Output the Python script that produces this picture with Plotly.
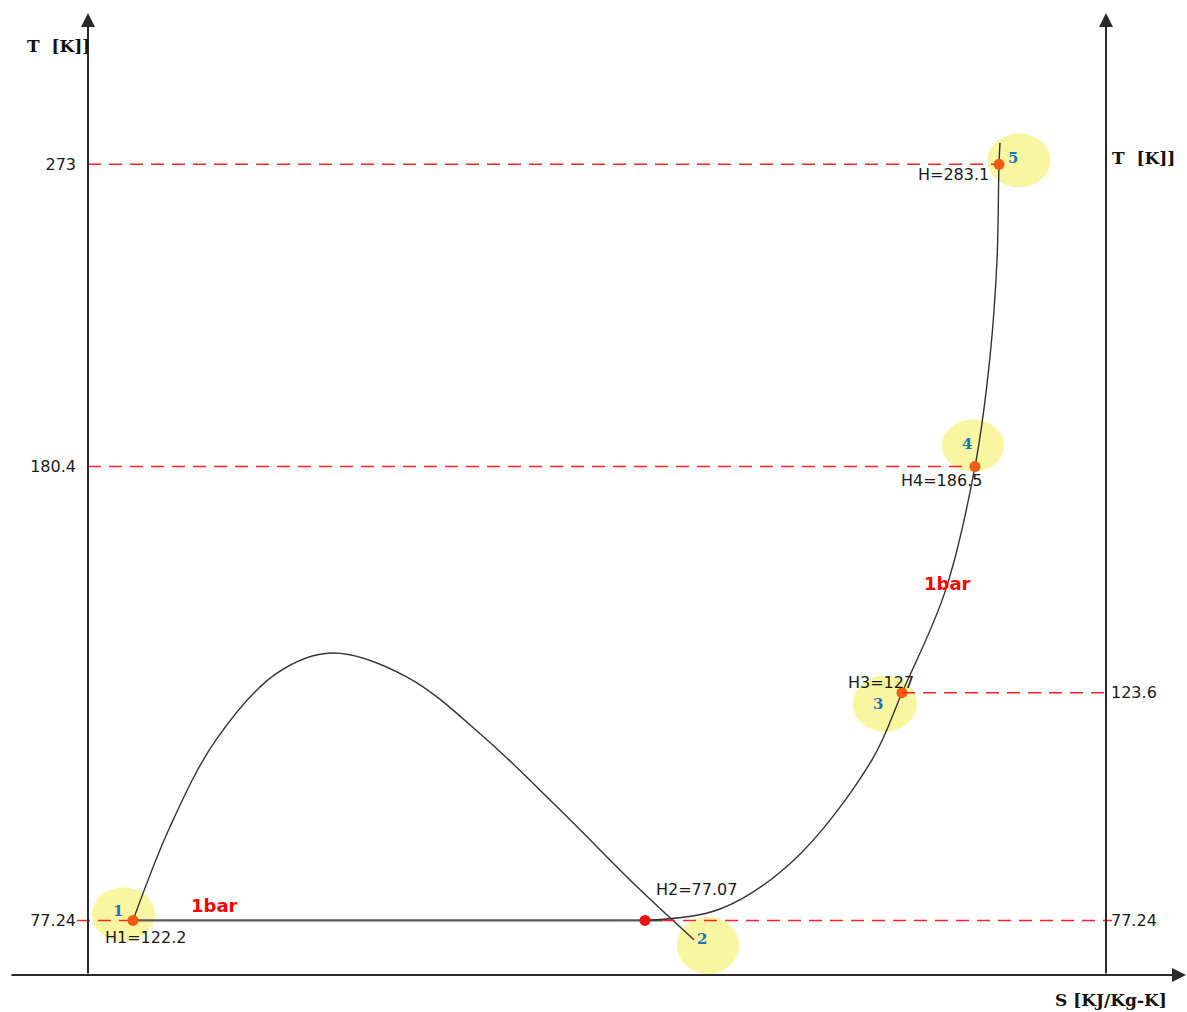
import numpy as np
import plotly.graph_objects as go

W, H = 1187, 1012

# Temperature levels marked on the two T axes [K]
T_ticks_left = [77.24, 180.4, 273]
T_ticks_right = [77.24, 123.6]

# State points of the nitrogen warm-up at 1 bar (S in diagram units)
state_names = ["1", "2", "3", "4", "5"]
state_S = [0.45, 5.57, 8.14, 8.87, 9.11]
state_T = [77.24, 77.24, 123.6, 180.4, 273]
H_names = ["H1", "H2", "H3", "H4", "H"]
H_values = [122.2, 77.07, 127, 186.5, 283.1]

# Saturation dome
dome_S = [0.45, 0.82, 1.28, 1.89, 2.44, 3.19, 3.96, 4.72, 5.49, 6.06]
dome_T = [77.24, 95.0, 113.1, 128.1, 132.8, 127.2, 113.7, 98.4, 83.4, 73.8]

# 1 bar isobar: two-phase (boiling) segment
boil_S = [0.45, 5.74]
boil_T = [77.24, 77.24]

# 1 bar isobar: superheated vapour branch
vap_S = [5.57, 6.32, 7.06, 7.84, 8.14, 8.57, 8.87, 9.02, 9.09, 9.11, 9.12]
vap_T = [77.24, 79.3, 88.5, 108.8, 123.6, 147.6, 180.4, 211.8, 241.6, 273, 280.3]

# Positions of the two vertical T axes on the S scale
S_axis_left = 0.0
S_axis_right = 10.18


def ty(T):
    """Square-root temperature scale used for the vertical axis."""
    return np.sqrt(np.asarray(T, dtype=float))


fig = go.Figure()

LINE = "#333333"
RED = "#ff2424"
DASH = "13px,8px"

# Dashed reference lines at the marked temperatures
ref_lines = [
    (273, S_axis_left, state_S[4], "y"),
    (180.4, S_axis_left, state_S[3], "y"),
    (77.24, S_axis_left - 0.11, state_S[0], "y"),
    (123.6, state_S[2], S_axis_right + 0.04, "y2"),
    (77.24, 5.74, S_axis_right + 0.06, "y2"),
]
for T, s0, s1, ax in ref_lines:
    fig.add_trace(go.Scatter(
        x=[s0, s1], y=ty([T, T]), mode="lines", yaxis=ax,
        line=dict(color=RED, width=1.5, dash=DASH),
        hoverinfo="skip", showlegend=False))

# Saturation dome
fig.add_trace(go.Scatter(
    x=dome_S, y=ty(dome_T), mode="lines",
    line=dict(color=LINE, width=1.4, shape="spline", smoothing=1.0),
    hoverinfo="skip", showlegend=False))

# Isobar: boiling segment and vapour branch
fig.add_trace(go.Scatter(
    x=boil_S, y=ty(boil_T), mode="lines",
    line=dict(color="#5a5a5a", width=2.2),
    hoverinfo="skip", showlegend=False))
fig.add_trace(go.Scatter(
    x=vap_S, y=ty(vap_T), mode="lines",
    line=dict(color=LINE, width=1.4, shape="spline", smoothing=1.0),
    hoverinfo="skip", showlegend=False))

# State point markers
dot_colors = ["#f05a12", "#f01010", "#f05a12", "#f05a12", "#f05a12"]
fig.add_trace(go.Scatter(
    x=state_S, y=ty(state_T), mode="markers",
    marker=dict(size=11, color=dot_colors, line=dict(width=0)),
    hoverinfo="skip", showlegend=False))

# Highlight discs around the state numbers: (dx, dy up, rx, ry) in pixels
discs = [(-9.5, 6, 31.5, 27), (63, -25, 31, 28.5), (-17, -11, 32, 28),
         (-2, 21, 31, 26), (20, 4, 31.5, 27)]
shapes = []
for (dx, dy, rx, ry), s, t in zip(discs, state_S, state_T):
    shapes.append(dict(
        type="circle", xref="x", yref="y", layer="below",
        xsizemode="pixel", ysizemode="pixel",
        xanchor=s, yanchor=float(ty(t)),
        x0=dx - rx, x1=dx + rx, y0=dy - ry, y1=dy + ry,
        fillcolor="#f8f6a0", line=dict(width=0)))

annotations = []

# State numbers
num_shift = [(-15.5, 9.5), (57, -19), (-24, -11), (-8, 23), (14, 6)]
for name, s, t, (xs, ys) in zip(state_names, state_S, state_T, num_shift):
    annotations.append(dict(
        x=s, y=float(ty(t)), xref="x", yref="y", showarrow=False,
        text=f"<b>{name}</b>", xshift=xs, yshift=ys,
        font=dict(family="DejaVu Serif", size=15, color="#1c74bf")))

# Enthalpy labels [kJ/kg]
h_shift = [(12.5, -17), (51.5, 31), (-21, 10), (-34, -14), (-45.5, -10)]
for hn, hv, s, t, (xs, ys) in zip(H_names, H_values, state_S, state_T, h_shift):
    annotations.append(dict(
        x=s, y=float(ty(t)), xref="x", yref="y", showarrow=False,
        text=f"{hn}={hv:g}", xshift=xs, yshift=ys,
        font=dict(family="DejaVu Sans", size=16, color="#1a1a1a")))

# Pressure labels on the isobar
for s, t in [(1.26, 80.0), (8.59, 149.8)]:
    annotations.append(dict(
        x=s, y=float(ty(t)), xref="x", yref="y", showarrow=False,
        text="<b>1bar</b>",
        font=dict(family="DejaVu Sans", size=18, color="#ff0000")))


# Axis lines with arrowheads (paper coordinates from pixel positions)
def px(xp):
    return xp / W


def py(yp):
    return 1 - yp / H


axis_arrows = [
    (88, 13, 0, 962),       # left T axis
    (1106, 13, 0, 962),     # right T axis
    (1186, 975, -1176, 0),  # S axis
]
for xh, yh, axp, ayp in axis_arrows:
    annotations.append(dict(
        x=px(xh), y=py(yh), xref="paper", yref="paper",
        ax=axp, ay=ayp, axref="pixel", ayref="pixel",
        text="", showarrow=True, arrowhead=2, arrowsize=1.4,
        arrowwidth=2, arrowcolor="#2a2a2a"))

# Axis titles
title_font = dict(family="DejaVu Serif", size=17, color="#111111")
annotations += [
    dict(x=px(25), y=py(46), xref="paper", yref="paper", xanchor="left",
         yanchor="middle", showarrow=False, text="<b>T  [K]]</b>",
         font=title_font),
    dict(x=px(1110), y=py(158), xref="paper", yref="paper", xanchor="left",
         yanchor="middle", showarrow=False, text="<b>T  [K]]</b>",
         font=title_font),
    dict(x=px(1169), y=py(1000), xref="paper", yref="paper", xanchor="right",
         yanchor="middle", showarrow=False, text="<b>S [KJ/Kg-K]</b>",
         font=title_font),
]

y_range = [7.8516, 18.2036]
tick_font = dict(family="DejaVu Sans", size=16, color="#1a1a1a")

fig.update_layout(
    width=W, height=H,
    margin=dict(l=0, r=0, t=0, b=0),
    paper_bgcolor="white", plot_bgcolor="white",
    showlegend=False,
    xaxis=dict(range=[-0.88, 10.99], visible=False, domain=[0, 1]),
    yaxis=dict(
        range=y_range, domain=[0, 1], anchor="free", position=px(88),
        showgrid=False, zeroline=False, showline=False, ticks="",
        tickvals=ty(T_ticks_left).tolist(),
        ticktext=[f"{t:g}" for t in T_ticks_left],
        tickfont=tick_font, ticklabelstandoff=12),
    yaxis2=dict(
        range=y_range, overlaying="y", side="right", anchor="free",
        position=px(1106),
        showgrid=False, zeroline=False, showline=False, ticks="",
        tickvals=ty(T_ticks_right).tolist(),
        ticktext=[f"{t:g}" for t in T_ticks_right],
        tickfont=tick_font, ticklabelstandoff=4),
    shapes=shapes,
    annotations=annotations,
)

fig.write_html("out.html")
